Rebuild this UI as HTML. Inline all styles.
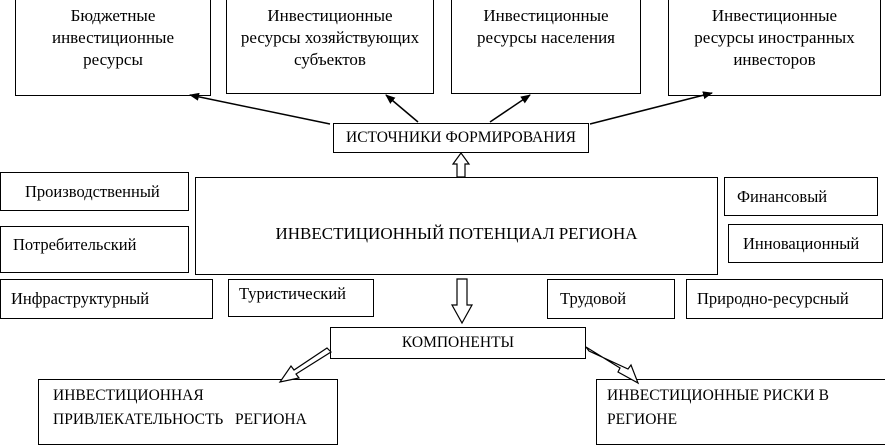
<!DOCTYPE html>
<html><head><meta charset="utf-8"><style>
body{margin:0;width:885px;height:443px;background:#fff;position:relative;overflow:hidden;font-family:"Liberation Serif",serif;font-size:16.5px;color:#000}
.b{position:absolute;border:1.5px solid #000;box-sizing:border-box;background:#fff;white-space:nowrap}
.c{text-align:center;line-height:22px}
.l{padding-left:10px;display:flex;align-items:center}
.t{font-size:17px}
</style></head><body>
<div class="b c t" style="left:15px;top:-2px;width:196px;height:98px;padding-top:6px">Бюджетные<br>инвестиционные<br>ресурсы</div>
<div class="b c t" style="left:226px;top:-2px;width:208px;height:96px;padding-top:6px">Инвестиционные<br>ресурсы хозяйствующих<br>субъектов</div>
<div class="b c t" style="left:451px;top:-2px;width:190px;height:96px;padding-top:6px">Инвестиционные<br>ресурсы населения</div>
<div class="b c t" style="left:668px;top:-2px;width:213px;height:98px;padding-top:6px">Инвестиционные<br>ресурсы иностранных<br>инвесторов</div>
<div class="b c" style="left:333px;top:123px;width:256px;height:30px;line-height:27px;font-size:15.5px">ИСТОЧНИКИ ФОРМИРОВАНИЯ</div>
<div class="b c" style="left:195px;top:177px;width:523px;height:98px;line-height:112px;font-size:17px">ИНВЕСТИЦИОННЫЙ ПОТЕНЦИАЛ РЕГИОНА</div>
<div class="b l" style="left:0;top:172px;width:189px;height:39px;padding-left:24px">Производственный</div>
<div class="b l" style="left:0;top:226px;width:189px;height:47px;padding-left:12px;padding-bottom:10px">Потребительский</div>
<div class="b l" style="left:724px;top:177px;width:154px;height:39px;padding-left:12px">Финансовый</div>
<div class="b l" style="left:728px;top:224px;width:155px;height:39px;padding-left:14px">Инновационный</div>
<div class="b l" style="left:0;top:279px;width:213px;height:40px">Инфраструктурный</div>
<div class="b l" style="left:228px;top:279px;width:146px;height:38px;padding-bottom:8px">Туристический</div>
<div class="b l" style="left:547px;top:279px;width:128px;height:40px;padding-left:12px">Трудовой</div>
<div class="b l" style="left:686px;top:279px;width:197px;height:40px">Природно-ресурсный</div>
<div class="b c" style="left:330px;top:327px;width:256px;height:32px;line-height:29px;font-size:15.5px">КОМПОНЕНТЫ</div>
<div class="b" style="left:38px;top:379px;width:300px;height:66px;padding:4px 0 0 14px;line-height:24px;font-size:15.5px">ИНВЕСТИЦИОННАЯ<br>ПРИВЛЕКАТЕЛЬНОСТЬ &nbsp; РЕГИОНА</div>
<div class="b" style="left:596px;top:379px;width:292px;height:66px;padding:4px 0 0 10px;line-height:24px;font-size:15.5px">ИНВЕСТИЦИОННЫЕ РИСКИ В<br>РЕГИОНЕ</div>
<svg width="885" height="443" style="position:absolute;left:0;top:0" viewBox="0 0 885 443">
<defs><marker id="a" markerWidth="10" markerHeight="8" refX="9" refY="4" orient="auto" markerUnits="userSpaceOnUse"><path d="M0,0L10,4L0,8z"/></marker></defs>
<g stroke="#000" stroke-width="1.5" fill="none">
<line x1="330" y1="124" x2="190" y2="95" marker-end="url(#a)"/>
<line x1="418" y1="122" x2="386" y2="95" marker-end="url(#a)"/>
<line x1="490" y1="122" x2="530" y2="95" marker-end="url(#a)"/>
<line x1="590" y1="124" x2="712" y2="93" marker-end="url(#a)"/>
</g>
<g stroke="#000" stroke-width="1.2" fill="#fff">
<path d="M457,177V164H453L461,153L469,164H465V177Z"/>
<path d="M457,279V305H452L462,323L472,305H467V279Z"/>
<path d="M327,348L294,370L291,366L280,382L299,378L296,374L331,352Z"/>
<path d="M586,347L620,368L618,372L638,383L631,365L628,369L589,351Z"/>
</g>
</svg>
</body></html>
